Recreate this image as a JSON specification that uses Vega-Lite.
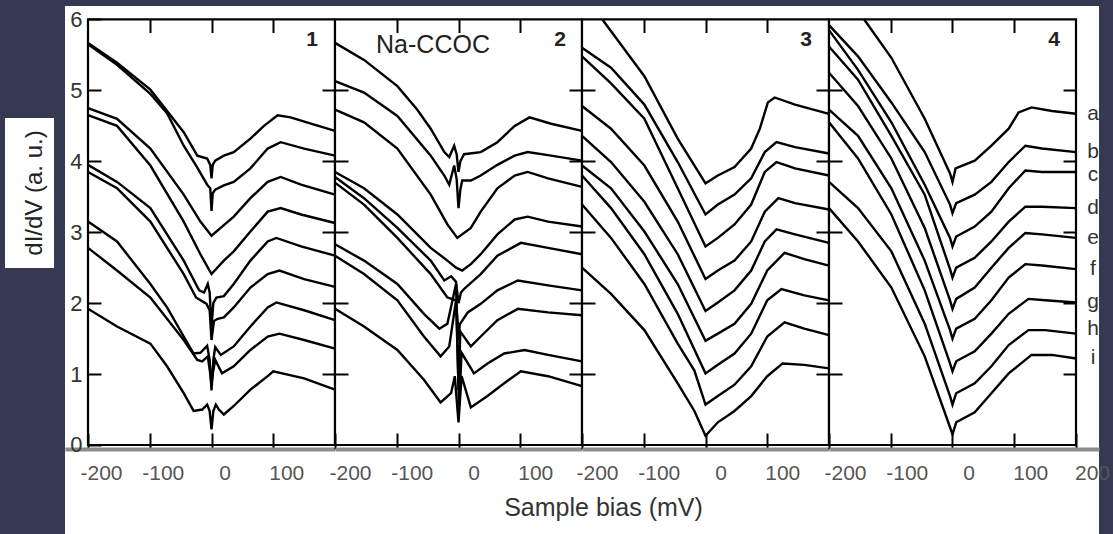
{
"$schema": "https://vega.github.io/schema/vega-lite/v6.json",
"background": "#353a52",
"padding": {"left": 5, "top": 6, "right": 14, "bottom": 0},
"autosize": {"type": "pad"},
"config": {"view": {"stroke": null}, "font": "Liberation Sans", "axis": {"grid": false, "domain": false, "tickColor": "#000", "tickWidth": 2, "labelFont": "Liberation Sans", "titleFont": "Liberation Sans"}},
"datasets": {
"p1": [
{"c":"a","x":-200,"y":5.67},{"c":"a","x":-153,"y":5.39},{"c":"a","x":-99,"y":5.01},{"c":"a","x":-45,"y":4.41},{"c":"a","x":-23,"y":4.08},{"c":"a","x":-7,"y":4.04},{"c":"a","x":-2,"y":3.95},{"c":"a","x":0,"y":3.76},{"c":"a","x":2,"y":3.95},{"c":"a","x":6,"y":4.01},{"c":"a","x":20,"y":4.08},{"c":"a","x":36,"y":4.13},{"c":"a","x":63,"y":4.32},{"c":"a","x":85,"y":4.5},{"c":"a","x":107,"y":4.65},{"c":"a","x":128,"y":4.62},{"c":"a","x":161,"y":4.53},{"c":"a","x":200,"y":4.43},
{"c":"b","x":-200,"y":5.65},{"c":"b","x":-153,"y":5.36},{"c":"b","x":-99,"y":4.95},{"c":"b","x":-72,"y":4.68},{"c":"b","x":-45,"y":4.22},{"c":"b","x":-23,"y":3.91},{"c":"b","x":-7,"y":3.67},{"c":"b","x":-2,"y":3.62},{"c":"b","x":0,"y":3.3},{"c":"b","x":2,"y":3.55},{"c":"b","x":6,"y":3.6},{"c":"b","x":20,"y":3.66},{"c":"b","x":36,"y":3.71},{"c":"b","x":63,"y":3.9},{"c":"b","x":91,"y":4.18},{"c":"b","x":112,"y":4.27},{"c":"b","x":150,"y":4.18},{"c":"b","x":200,"y":4.08},
{"c":"c","x":-200,"y":4.75},{"c":"c","x":-153,"y":4.6},{"c":"c","x":-99,"y":4.18},{"c":"c","x":-45,"y":3.53},{"c":"c","x":-18,"y":3.15},{"c":"c","x":0,"y":2.95},{"c":"c","x":20,"y":3.1},{"c":"c","x":36,"y":3.22},{"c":"c","x":63,"y":3.48},{"c":"c","x":91,"y":3.71},{"c":"c","x":112,"y":3.78},{"c":"c","x":145,"y":3.67},{"c":"c","x":200,"y":3.53},
{"c":"d","x":-200,"y":4.65},{"c":"d","x":-153,"y":4.5},{"c":"d","x":-99,"y":3.94},{"c":"d","x":-45,"y":3.15},{"c":"d","x":-18,"y":2.69},{"c":"d","x":0,"y":2.41},{"c":"d","x":20,"y":2.6},{"c":"d","x":36,"y":2.73},{"c":"d","x":63,"y":3.01},{"c":"d","x":91,"y":3.29},{"c":"d","x":112,"y":3.34},{"c":"d","x":145,"y":3.25},{"c":"d","x":200,"y":3.13},
{"c":"e","x":-200,"y":3.95},{"c":"e","x":-153,"y":3.71},{"c":"e","x":-99,"y":3.34},{"c":"e","x":-45,"y":2.6},{"c":"e","x":-20,"y":2.18},{"c":"e","x":-12,"y":2.15},{"c":"e","x":-6,"y":2.27},{"c":"e","x":-3,"y":2.15},{"c":"e","x":0,"y":1.67},{"c":"e","x":3,"y":2.0},{"c":"e","x":8,"y":2.08},{"c":"e","x":20,"y":2.1},{"c":"e","x":36,"y":2.27},{"c":"e","x":63,"y":2.6},{"c":"e","x":91,"y":2.87},{"c":"e","x":105,"y":2.92},{"c":"e","x":145,"y":2.8},{"c":"e","x":200,"y":2.67},
{"c":"f","x":-200,"y":3.85},{"c":"f","x":-153,"y":3.62},{"c":"f","x":-99,"y":3.15},{"c":"f","x":-45,"y":2.41},{"c":"f","x":-25,"y":2.08},{"c":"f","x":-8,"y":1.99},{"c":"f","x":-3,"y":1.9},{"c":"f","x":0,"y":1.48},{"c":"f","x":4,"y":1.75},{"c":"f","x":10,"y":1.78},{"c":"f","x":20,"y":1.8},{"c":"f","x":36,"y":1.94},{"c":"f","x":63,"y":2.22},{"c":"f","x":91,"y":2.41},{"c":"f","x":110,"y":2.46},{"c":"f","x":150,"y":2.34},{"c":"f","x":200,"y":2.23},
{"c":"g","x":-200,"y":3.15},{"c":"g","x":-153,"y":2.87},{"c":"g","x":-99,"y":2.27},{"c":"g","x":-72,"y":1.94},{"c":"g","x":-45,"y":1.53},{"c":"g","x":-29,"y":1.29},{"c":"g","x":-18,"y":1.3},{"c":"g","x":-7,"y":1.4},{"c":"g","x":-3,"y":1.2},{"c":"g","x":0,"y":0.77},{"c":"g","x":3,"y":1.2},{"c":"g","x":6,"y":1.38},{"c":"g","x":15,"y":1.27},{"c":"g","x":36,"y":1.39},{"c":"g","x":63,"y":1.67},{"c":"g","x":91,"y":1.94},{"c":"g","x":105,"y":2.01},{"c":"g","x":150,"y":1.9},{"c":"g","x":200,"y":1.76},
{"c":"h","x":-200,"y":2.78},{"c":"h","x":-153,"y":2.46},{"c":"h","x":-99,"y":2.08},{"c":"h","x":-45,"y":1.48},{"c":"h","x":-23,"y":1.2},{"c":"h","x":-15,"y":1.18},{"c":"h","x":-6,"y":1.25},{"c":"h","x":-2,"y":1.0},{"c":"h","x":0,"y":0.85},{"c":"h","x":2,"y":1.0},{"c":"h","x":6,"y":1.2},{"c":"h","x":17,"y":1.01},{"c":"h","x":36,"y":1.11},{"c":"h","x":63,"y":1.34},{"c":"h","x":91,"y":1.53},{"c":"h","x":110,"y":1.57},{"c":"h","x":150,"y":1.48},{"c":"h","x":200,"y":1.36},
{"c":"i","x":-200,"y":1.92},{"c":"i","x":-153,"y":1.67},{"c":"i","x":-99,"y":1.43},{"c":"i","x":-72,"y":1.11},{"c":"i","x":-45,"y":0.73},{"c":"i","x":-29,"y":0.48},{"c":"i","x":-15,"y":0.5},{"c":"i","x":-7,"y":0.57},{"c":"i","x":-3,"y":0.48},{"c":"i","x":0,"y":0.22},{"c":"i","x":3,"y":0.48},{"c":"i","x":7,"y":0.57},{"c":"i","x":12,"y":0.5},{"c":"i","x":20,"y":0.43},{"c":"i","x":36,"y":0.55},{"c":"i","x":63,"y":0.78},{"c":"i","x":91,"y":0.97},{"c":"i","x":100,"y":1.04},{"c":"i","x":150,"y":0.94},{"c":"i","x":200,"y":0.78}
],
"p2": [
{"c":"a","x":-200,"y":5.67},{"c":"a","x":-153,"y":5.43},{"c":"a","x":-99,"y":5.06},{"c":"a","x":-67,"y":4.73},{"c":"a","x":-45,"y":4.46},{"c":"a","x":-23,"y":4.13},{"c":"a","x":-15,"y":4.06},{"c":"a","x":-7,"y":4.22},{"c":"a","x":-3,"y":4.1},{"c":"a","x":0,"y":3.85},{"c":"a","x":3,"y":4.0},{"c":"a","x":9,"y":4.1},{"c":"a","x":36,"y":4.13},{"c":"a","x":63,"y":4.27},{"c":"a","x":91,"y":4.5},{"c":"a","x":115,"y":4.62},{"c":"a","x":150,"y":4.53},{"c":"a","x":200,"y":4.43},
{"c":"b","x":-200,"y":5.13},{"c":"b","x":-153,"y":4.97},{"c":"b","x":-99,"y":4.64},{"c":"b","x":-45,"y":4.08},{"c":"b","x":-23,"y":3.8},{"c":"b","x":-15,"y":3.67},{"c":"b","x":-7,"y":3.94},{"c":"b","x":-3,"y":3.75},{"c":"b","x":0,"y":3.34},{"c":"b","x":3,"y":3.6},{"c":"b","x":6,"y":3.73},{"c":"b","x":20,"y":3.73},{"c":"b","x":36,"y":3.8},{"c":"b","x":63,"y":3.95},{"c":"b","x":91,"y":4.08},{"c":"b","x":112,"y":4.13},{"c":"b","x":150,"y":4.08},{"c":"b","x":200,"y":4.01},
{"c":"c","x":-200,"y":4.73},{"c":"c","x":-153,"y":4.55},{"c":"c","x":-99,"y":4.18},{"c":"c","x":-45,"y":3.53},{"c":"c","x":-18,"y":3.11},{"c":"c","x":-2,"y":2.92},{"c":"c","x":20,"y":3.06},{"c":"c","x":36,"y":3.29},{"c":"c","x":63,"y":3.62},{"c":"c","x":91,"y":3.8},{"c":"c","x":112,"y":3.85},{"c":"c","x":145,"y":3.76},{"c":"c","x":200,"y":3.64},
{"c":"d","x":-200,"y":3.85},{"c":"d","x":-153,"y":3.62},{"c":"d","x":-99,"y":3.25},{"c":"d","x":-45,"y":2.78},{"c":"d","x":-18,"y":2.6},{"c":"d","x":-4,"y":2.5},{"c":"d","x":6,"y":2.46},{"c":"d","x":20,"y":2.55},{"c":"d","x":36,"y":2.69},{"c":"d","x":63,"y":2.97},{"c":"d","x":91,"y":3.18},{"c":"d","x":112,"y":3.22},{"c":"d","x":145,"y":3.15},{"c":"d","x":200,"y":3.08},
{"c":"e","x":-200,"y":3.78},{"c":"e","x":-153,"y":3.48},{"c":"e","x":-99,"y":3.06},{"c":"e","x":-45,"y":2.6},{"c":"e","x":-23,"y":2.32},{"c":"e","x":-12,"y":2.38},{"c":"e","x":-4,"y":2.3},{"c":"e","x":0,"y":2.0},{"c":"e","x":4,"y":2.15},{"c":"e","x":9,"y":2.2},{"c":"e","x":36,"y":2.41},{"c":"e","x":63,"y":2.67},{"c":"e","x":101,"y":2.85},{"c":"e","x":145,"y":2.78},{"c":"e","x":200,"y":2.69},
{"c":"f","x":-200,"y":3.7},{"c":"f","x":-153,"y":3.39},{"c":"f","x":-99,"y":2.92},{"c":"f","x":-45,"y":2.41},{"c":"f","x":-18,"y":2.08},{"c":"f","x":-4,"y":2.04},{"c":"f","x":-1,"y":1.7},{"c":"f","x":0,"y":1.48},{"c":"f","x":2,"y":1.7},{"c":"f","x":15,"y":1.87},{"c":"f","x":36,"y":1.99},{"c":"f","x":63,"y":2.18},{"c":"f","x":96,"y":2.32},{"c":"f","x":145,"y":2.25},{"c":"f","x":200,"y":2.18},
{"c":"g","x":-200,"y":2.83},{"c":"g","x":-153,"y":2.6},{"c":"g","x":-99,"y":2.27},{"c":"g","x":-56,"y":1.85},{"c":"g","x":-31,"y":1.64},{"c":"g","x":-18,"y":1.71},{"c":"g","x":-4,"y":2.27},{"c":"g","x":0,"y":0.78},{"c":"g","x":3,"y":1.6},{"c":"g","x":20,"y":1.39},{"c":"g","x":36,"y":1.53},{"c":"g","x":63,"y":1.76},{"c":"g","x":96,"y":1.92},{"c":"g","x":145,"y":1.87},{"c":"g","x":200,"y":1.83},
{"c":"h","x":-200,"y":2.67},{"c":"h","x":-153,"y":2.41},{"c":"h","x":-99,"y":2.04},{"c":"h","x":-56,"y":1.53},{"c":"h","x":-29,"y":1.25},{"c":"h","x":-15,"y":1.39},{"c":"h","x":-4,"y":2.04},{"c":"h","x":1,"y":0.55},{"c":"h","x":5,"y":1.3},{"c":"h","x":25,"y":1.01},{"c":"h","x":47,"y":1.15},{"c":"h","x":74,"y":1.29},{"c":"h","x":107,"y":1.34},{"c":"h","x":145,"y":1.27},{"c":"h","x":200,"y":1.18},
{"c":"i","x":-200,"y":1.92},{"c":"i","x":-153,"y":1.67},{"c":"i","x":-99,"y":1.34},{"c":"i","x":-56,"y":0.92},{"c":"i","x":-29,"y":0.6},{"c":"i","x":-12,"y":0.73},{"c":"i","x":-6,"y":0.97},{"c":"i","x":0,"y":0.32},{"c":"i","x":5,"y":0.97},{"c":"i","x":20,"y":0.53},{"c":"i","x":47,"y":0.69},{"c":"i","x":74,"y":0.87},{"c":"i","x":101,"y":1.04},{"c":"i","x":145,"y":0.97},{"c":"i","x":200,"y":0.83}
],
"p3": [
{"c":"a","x":-167,"y":6.0},{"c":"a","x":-99,"y":5.2},{"c":"a","x":-45,"y":4.32},{"c":"a","x":0,"y":3.69},{"c":"a","x":20,"y":3.8},{"c":"a","x":47,"y":3.92},{"c":"a","x":74,"y":4.18},{"c":"a","x":88,"y":4.46},{"c":"a","x":101,"y":4.83},{"c":"a","x":112,"y":4.9},{"c":"a","x":145,"y":4.8},{"c":"a","x":200,"y":4.67},
{"c":"b","x":-200,"y":5.6},{"c":"b","x":-153,"y":5.32},{"c":"b","x":-99,"y":4.8},{"c":"b","x":-45,"y":3.99},{"c":"b","x":0,"y":3.25},{"c":"b","x":20,"y":3.39},{"c":"b","x":47,"y":3.53},{"c":"b","x":74,"y":3.76},{"c":"b","x":96,"y":4.13},{"c":"b","x":115,"y":4.27},{"c":"b","x":145,"y":4.2},{"c":"b","x":200,"y":4.11},
{"c":"c","x":-200,"y":5.48},{"c":"c","x":-153,"y":5.1},{"c":"c","x":-99,"y":4.6},{"c":"c","x":-45,"y":3.62},{"c":"c","x":0,"y":2.8},{"c":"c","x":20,"y":2.92},{"c":"c","x":47,"y":3.11},{"c":"c","x":74,"y":3.39},{"c":"c","x":96,"y":3.85},{"c":"c","x":115,"y":3.99},{"c":"c","x":145,"y":3.9},{"c":"c","x":200,"y":3.8},
{"c":"d","x":-200,"y":4.78},{"c":"d","x":-153,"y":4.46},{"c":"d","x":-99,"y":3.94},{"c":"d","x":-45,"y":3.15},{"c":"d","x":0,"y":2.34},{"c":"d","x":20,"y":2.46},{"c":"d","x":47,"y":2.6},{"c":"d","x":74,"y":2.87},{"c":"d","x":96,"y":3.29},{"c":"d","x":118,"y":3.48},{"c":"d","x":145,"y":3.41},{"c":"d","x":200,"y":3.32},
{"c":"e","x":-200,"y":4.36},{"c":"e","x":-153,"y":3.99},{"c":"e","x":-99,"y":3.43},{"c":"e","x":-45,"y":2.69},{"c":"e","x":0,"y":1.89},{"c":"e","x":20,"y":2.01},{"c":"e","x":47,"y":2.18},{"c":"e","x":74,"y":2.46},{"c":"e","x":96,"y":2.87},{"c":"e","x":115,"y":3.04},{"c":"e","x":145,"y":2.97},{"c":"e","x":200,"y":2.85},
{"c":"f","x":-200,"y":3.94},{"c":"f","x":-153,"y":3.62},{"c":"f","x":-99,"y":3.01},{"c":"f","x":-45,"y":2.27},{"c":"f","x":0,"y":1.47},{"c":"f","x":20,"y":1.57},{"c":"f","x":47,"y":1.71},{"c":"f","x":74,"y":1.99},{"c":"f","x":100,"y":2.46},{"c":"f","x":128,"y":2.71},{"c":"f","x":160,"y":2.62},{"c":"f","x":200,"y":2.53},
{"c":"g","x":-200,"y":3.8},{"c":"g","x":-153,"y":3.34},{"c":"g","x":-99,"y":2.69},{"c":"g","x":-45,"y":1.85},{"c":"g","x":0,"y":1.01},{"c":"g","x":20,"y":1.13},{"c":"g","x":47,"y":1.29},{"c":"g","x":74,"y":1.57},{"c":"g","x":100,"y":2.04},{"c":"g","x":123,"y":2.2},{"c":"g","x":160,"y":2.11},{"c":"g","x":200,"y":2.04},
{"c":"h","x":-200,"y":3.39},{"c":"h","x":-153,"y":2.92},{"c":"h","x":-99,"y":2.27},{"c":"h","x":-45,"y":1.43},{"c":"h","x":-18,"y":1.05},{"c":"h","x":0,"y":0.57},{"c":"h","x":20,"y":0.69},{"c":"h","x":47,"y":0.85},{"c":"h","x":74,"y":1.11},{"c":"h","x":100,"y":1.53},{"c":"h","x":128,"y":1.73},{"c":"h","x":160,"y":1.64},{"c":"h","x":200,"y":1.55},
{"c":"i","x":-200,"y":2.5},{"c":"i","x":-153,"y":2.13},{"c":"i","x":-99,"y":1.62},{"c":"i","x":-45,"y":0.87},{"c":"i","x":-18,"y":0.48},{"c":"i","x":0,"y":0.13},{"c":"i","x":20,"y":0.32},{"c":"i","x":47,"y":0.48},{"c":"i","x":74,"y":0.69},{"c":"i","x":100,"y":0.97},{"c":"i","x":125,"y":1.15},{"c":"i","x":160,"y":1.13},{"c":"i","x":200,"y":1.08}
],
"p4": [
{"c":"a","x":-143,"y":6.0},{"c":"a","x":-99,"y":5.46},{"c":"a","x":-45,"y":4.6},{"c":"a","x":-4,"y":3.83},{"c":"a","x":0,"y":3.71},{"c":"a","x":5,"y":3.9},{"c":"a","x":36,"y":4.01},{"c":"a","x":63,"y":4.22},{"c":"a","x":91,"y":4.46},{"c":"a","x":107,"y":4.69},{"c":"a","x":128,"y":4.76},{"c":"a","x":161,"y":4.71},{"c":"a","x":200,"y":4.67},
{"c":"b","x":-200,"y":5.92},{"c":"b","x":-153,"y":5.48},{"c":"b","x":-99,"y":4.83},{"c":"b","x":-45,"y":4.13},{"c":"b","x":-4,"y":3.39},{"c":"b","x":0,"y":3.27},{"c":"b","x":6,"y":3.41},{"c":"b","x":36,"y":3.53},{"c":"b","x":63,"y":3.71},{"c":"b","x":91,"y":3.99},{"c":"b","x":118,"y":4.22},{"c":"b","x":145,"y":4.18},{"c":"b","x":200,"y":4.13},
{"c":"c","x":-200,"y":5.85},{"c":"c","x":-153,"y":5.29},{"c":"c","x":-99,"y":4.55},{"c":"c","x":-45,"y":3.67},{"c":"c","x":-4,"y":2.92},{"c":"c","x":0,"y":2.8},{"c":"c","x":6,"y":2.94},{"c":"c","x":36,"y":3.08},{"c":"c","x":63,"y":3.29},{"c":"c","x":91,"y":3.62},{"c":"c","x":118,"y":3.87},{"c":"c","x":145,"y":3.85},{"c":"c","x":200,"y":3.85},
{"c":"d","x":-200,"y":5.62},{"c":"d","x":-153,"y":5.15},{"c":"d","x":-99,"y":4.36},{"c":"d","x":-45,"y":3.53},{"c":"d","x":-4,"y":2.48},{"c":"d","x":0,"y":2.36},{"c":"d","x":6,"y":2.5},{"c":"d","x":36,"y":2.64},{"c":"d","x":63,"y":2.87},{"c":"d","x":91,"y":3.15},{"c":"d","x":118,"y":3.36},{"c":"d","x":145,"y":3.36},{"c":"d","x":200,"y":3.34},
{"c":"e","x":-200,"y":5.25},{"c":"e","x":-153,"y":4.78},{"c":"e","x":-99,"y":4.04},{"c":"e","x":-45,"y":3.06},{"c":"e","x":-4,"y":2.04},{"c":"e","x":0,"y":1.92},{"c":"e","x":6,"y":2.06},{"c":"e","x":36,"y":2.22},{"c":"e","x":63,"y":2.5},{"c":"e","x":91,"y":2.78},{"c":"e","x":118,"y":2.99},{"c":"e","x":145,"y":2.97},{"c":"e","x":200,"y":2.92},
{"c":"f","x":-200,"y":4.73},{"c":"f","x":-153,"y":4.36},{"c":"f","x":-99,"y":3.62},{"c":"f","x":-45,"y":2.6},{"c":"f","x":-4,"y":1.62},{"c":"f","x":0,"y":1.5},{"c":"f","x":6,"y":1.64},{"c":"f","x":36,"y":1.78},{"c":"f","x":63,"y":2.04},{"c":"f","x":91,"y":2.36},{"c":"f","x":118,"y":2.55},{"c":"f","x":145,"y":2.53},{"c":"f","x":200,"y":2.48},
{"c":"g","x":-200,"y":4.55},{"c":"g","x":-153,"y":4.04},{"c":"g","x":-99,"y":3.25},{"c":"g","x":-45,"y":2.18},{"c":"g","x":-4,"y":1.15},{"c":"g","x":0,"y":1.04},{"c":"g","x":6,"y":1.18},{"c":"g","x":36,"y":1.32},{"c":"g","x":63,"y":1.57},{"c":"g","x":91,"y":1.85},{"c":"g","x":123,"y":2.06},{"c":"g","x":150,"y":2.04},{"c":"g","x":200,"y":2.01},
{"c":"h","x":-200,"y":3.71},{"c":"h","x":-153,"y":3.34},{"c":"h","x":-99,"y":2.73},{"c":"h","x":-45,"y":1.71},{"c":"h","x":-4,"y":0.69},{"c":"h","x":0,"y":0.57},{"c":"h","x":6,"y":0.73},{"c":"h","x":36,"y":0.87},{"c":"h","x":63,"y":1.11},{"c":"h","x":91,"y":1.41},{"c":"h","x":123,"y":1.62},{"c":"h","x":150,"y":1.62},{"c":"h","x":200,"y":1.57},
{"c":"i","x":-200,"y":3.34},{"c":"i","x":-153,"y":2.87},{"c":"i","x":-99,"y":2.22},{"c":"i","x":-45,"y":1.25},{"c":"i","x":-4,"y":0.25},{"c":"i","x":0,"y":0.15},{"c":"i","x":6,"y":0.32},{"c":"i","x":36,"y":0.46},{"c":"i","x":63,"y":0.73},{"c":"i","x":91,"y":1.01},{"c":"i","x":128,"y":1.27},{"c":"i","x":161,"y":1.27},{"c":"i","x":200,"y":1.22}
]
},
"spacing": 11,
"hconcat": [
{"vconcat": [
  {"width": 49, "height": 112, "data": {"values": []}, "mark": "point"},
  {"width": 49, "height": 150, "view": {"fill": "white"}, "data": {"values": []}, "mark": "point",
   "title": {"text": "dI/dV (a. u.)", "orient": "left", "anchor": "middle", "offset": -42, "fontSize": 24, "fontWeight": "normal", "color": "#222", "font": "Liberation Sans"}}
 ], "spacing": 0, "bounds": "flush"},
{"hconcat": [
 {"width": 270, "height": 528, "view": {"fill": "white"}, "data": {"name": "p1"},
  "resolve": {"axis": {"x": "independent", "y": "independent"}},
  "layer": [
   {"mark": {"type": "line", "color": "#000", "strokeWidth": 2.4},
    "encoding": {
     "x": {"field": "x", "type": "quantitative", "scale": {"domain": [-237.25, 200], "nice": false, "zero": false},
       "axis": {"orient": "bottom", "offset": -85, "values": [-200, -100, 0, 100], "labelExpr": "replace(datum.label, '\u2212', '-')", "tickSize": -16, "domain": true, "domainColor": "#8c8c8c", "domainWidth": 4, "labelOffset": 13, "labelPadding": 40, "labelBaseline": "middle", "labelFontSize": 21, "labelColor": "#555", "labelFlush": false, "labelOverlap": false, "title": null}},
     "y": {"field": "y", "type": "quantitative", "scale": {"domain": [-1.255, 6.19], "nice": false, "zero": false},
       "axis": {"orient": "left", "offset": -23, "values": [0, 1, 2, 3, 4, 5, 6], "tickSize": -13, "labelPadding": 19, "labelFontSize": 22, "labelColor": "#333", "labelBaseline": "middle", "labelFlush": false, "labelOverlap": false, "title": null}},
     "detail": {"field": "c"}}},
   {"mark": {"type": "line", "opacity": 0},
    "encoding": {
     "x": {"field": "x", "type": "quantitative", "scale": {"domain": [-237.25, 200], "nice": false, "zero": false},
       "axis": {"orient": "top", "offset": -13.5, "values": [-100, 0, 100], "tickSize": -13, "labels": false, "title": null}},
     "y": {"field": "y", "type": "quantitative", "scale": {"domain": [-1.255, 6.19], "nice": false, "zero": false},
       "axis": {"orient": "right", "offset": 0, "values": [1, 2, 3, 4, 5], "tickSize": -13, "labels": false, "title": null}},
     "detail": {"field": "c"}}},
   {"data": {"values": [{}]}, "mark": {"type": "rect", "filled": false, "stroke": "#000", "strokeWidth": 2.2},
    "encoding": {"x": {"datum": -200, "axis": null}, "x2": {"datum": 200}, "y": {"datum": 0, "axis": null}, "y2": {"datum": 6}}},
   {"data": {"values": [{}]}, "mark": {"type": "text", "text": "1", "fontSize": 21, "fontWeight": "bold", "align": "center", "baseline": "middle", "dx": -23, "dy": 20.5, "color": "#222"},
    "encoding": {"x": {"datum": 200, "axis": null}, "y": {"datum": 6, "axis": null}}}
  ]},
 {"width": 247, "height": 528, "view": {"fill": "white"}, "data": {"name": "p2"},
  "resolve": {"axis": {"x": "independent", "y": "independent"}},
  "layer": [
   {"mark": {"type": "line", "color": "#000", "strokeWidth": 2.4},
    "encoding": {
     "x": {"field": "x", "type": "quantitative", "scale": {"domain": [-200, 200], "nice": false, "zero": false},
       "axis": {"orient": "bottom", "offset": -85, "values": [-200, -100, 0, 100], "labelExpr": "replace(datum.label, '\u2212', '-')", "tickSize": -16, "domain": true, "domainColor": "#8c8c8c", "domainWidth": 4, "labelOffset": 15, "labelPadding": 40, "labelBaseline": "middle", "labelFontSize": 21, "labelColor": "#555", "labelFlush": false, "labelOverlap": false, "title": null}},
     "y": {"field": "y", "type": "quantitative", "scale": {"domain": [-1.255, 6.19], "nice": false, "zero": false},
       "axis": {"orient": "left", "offset": 0, "values": [1, 2, 3, 4, 5], "tickSize": -13, "labels": false, "title": null}},
     "detail": {"field": "c"}}},
   {"mark": {"type": "line", "opacity": 0},
    "encoding": {
     "x": {"field": "x", "type": "quantitative", "scale": {"domain": [-200, 200], "nice": false, "zero": false},
       "axis": {"orient": "top", "offset": -13.5, "values": [-100, 0, 100], "tickSize": -13, "labels": false, "title": null}},
     "y": {"field": "y", "type": "quantitative", "scale": {"domain": [-1.255, 6.19], "nice": false, "zero": false},
       "axis": {"orient": "right", "offset": 0, "values": [1, 2, 3, 4, 5], "tickSize": -13, "labels": false, "title": null}},
     "detail": {"field": "c"}}},
   {"data": {"values": [{}]}, "mark": {"type": "rect", "filled": false, "stroke": "#000", "strokeWidth": 2.2},
    "encoding": {"x": {"datum": -200, "axis": null}, "x2": {"datum": 200}, "y": {"datum": 0, "axis": null}, "y2": {"datum": 6}}},
   {"data": {"values": [{}]}, "mark": {"type": "text", "text": "2", "fontSize": 21, "fontWeight": "bold", "align": "center", "baseline": "middle", "dx": -22, "dy": 20.5, "color": "#222"},
    "encoding": {"x": {"datum": 200, "axis": null}, "y": {"datum": 6, "axis": null}}},
   {"data": {"values": [{}]}, "mark": {"type": "text", "text": "Na-CCOC", "fontSize": 25, "align": "center", "baseline": "middle", "dx": 98, "dy": 25.5, "color": "#222"},
    "encoding": {"x": {"datum": -200, "axis": null}, "y": {"datum": 6, "axis": null}}}
  ]},
 {"width": 247, "height": 528, "view": {"fill": "white"}, "data": {"name": "p3"},
  "resolve": {"axis": {"x": "independent", "y": "independent"}},
  "layer": [
   {"mark": {"type": "line", "color": "#000", "strokeWidth": 2.4},
    "encoding": {
     "x": {"field": "x", "type": "quantitative", "scale": {"domain": [-200, 200], "nice": false, "zero": false},
       "axis": {"orient": "bottom", "offset": -85, "values": [-200, -100, 0, 100], "labelExpr": "replace(datum.label, '\u2212', '-')", "tickSize": -16, "domain": true, "domainColor": "#8c8c8c", "domainWidth": 4, "labelOffset": 15, "labelPadding": 40, "labelBaseline": "middle", "labelFontSize": 21, "labelColor": "#555", "labelFlush": false, "labelOverlap": false,
         "title": "Sample bias (mV)", "titleX": 21, "titleY": 66, "titleAlign": "center", "titleBaseline": "alphabetic", "titleFontSize": 25, "titleFontWeight": "normal", "titleColor": "#333"}},
     "y": {"field": "y", "type": "quantitative", "scale": {"domain": [-1.255, 6.19], "nice": false, "zero": false},
       "axis": {"orient": "left", "offset": 0, "values": [1, 2, 3, 4, 5], "tickSize": -13, "labels": false, "title": null}},
     "detail": {"field": "c"}}},
   {"mark": {"type": "line", "opacity": 0},
    "encoding": {
     "x": {"field": "x", "type": "quantitative", "scale": {"domain": [-200, 200], "nice": false, "zero": false},
       "axis": {"orient": "top", "offset": -13.5, "values": [-100, 0, 100], "tickSize": -13, "labels": false, "title": null}},
     "y": {"field": "y", "type": "quantitative", "scale": {"domain": [-1.255, 6.19], "nice": false, "zero": false},
       "axis": {"orient": "right", "offset": 0, "values": [1, 2, 3, 4, 5], "tickSize": -13, "labels": false, "title": null}},
     "detail": {"field": "c"}}},
   {"data": {"values": [{}]}, "mark": {"type": "rect", "filled": false, "stroke": "#000", "strokeWidth": 2.2},
    "encoding": {"x": {"datum": -200, "axis": null}, "x2": {"datum": 200}, "y": {"datum": 0, "axis": null}, "y2": {"datum": 6}}},
   {"data": {"values": [{}]}, "mark": {"type": "text", "text": "3", "fontSize": 21, "fontWeight": "bold", "align": "center", "baseline": "middle", "dx": -23, "dy": 20.5, "color": "#222"},
    "encoding": {"x": {"datum": 200, "axis": null}, "y": {"datum": 6, "axis": null}}}
  ]},
 {"width": 270, "height": 528, "view": {"fill": "white"}, "data": {"name": "p4"},
  "resolve": {"axis": {"x": "independent", "y": "independent"}},
  "layer": [
   {"mark": {"type": "line", "color": "#000", "strokeWidth": 2.4},
    "encoding": {
     "x": {"field": "x", "type": "quantitative", "scale": {"domain": [-200, 237.25], "nice": false, "zero": false},
       "axis": {"orient": "bottom", "offset": -85, "values": [-200, -100, 0, 100, 200], "labelExpr": "replace(datum.label, '\u2212', '-')", "tickSize": -16, "domain": true, "domainColor": "#8c8c8c", "domainWidth": 4, "labelOffset": 16, "labelPadding": 40, "labelBaseline": "middle", "labelFontSize": 21, "labelColor": "#555", "labelFlush": false, "labelOverlap": false, "title": null}},
     "y": {"field": "y", "type": "quantitative", "scale": {"domain": [-1.255, 6.19], "nice": false, "zero": false},
       "axis": {"orient": "left", "offset": 0, "values": [1, 2, 3, 4, 5], "tickSize": -13, "labels": false, "title": null}},
     "detail": {"field": "c"}}},
   {"mark": {"type": "line", "opacity": 0},
    "encoding": {
     "x": {"field": "x", "type": "quantitative", "scale": {"domain": [-200, 237.25], "nice": false, "zero": false},
       "axis": {"orient": "top", "offset": -13.5, "values": [-100, 0, 100], "tickSize": -13, "labels": false, "title": null}},
     "y": {"field": "y", "type": "quantitative", "scale": {"domain": [-1.255, 6.19], "nice": false, "zero": false},
       "axis": {"orient": "right", "offset": -23, "values": [1, 2, 3, 4, 5], "tickSize": -13, "labels": false, "title": null}},
     "detail": {"field": "c"}}},
   {"data": {"values": [{}]}, "mark": {"type": "rect", "filled": false, "stroke": "#000", "strokeWidth": 2.2},
    "encoding": {"x": {"datum": -200, "axis": null}, "x2": {"datum": 200}, "y": {"datum": 0, "axis": null}, "y2": {"datum": 6}}},
   {"data": {"values": [{}]}, "mark": {"type": "text", "text": "4", "fontSize": 21, "fontWeight": "bold", "align": "center", "baseline": "middle", "dx": -22, "dy": 20.5, "color": "#222"},
    "encoding": {"x": {"datum": 200, "axis": null}, "y": {"datum": 6, "axis": null}}},
   {"data": {"values": [{"t":"a","v":4.67},{"t":"b","v":4.13},{"t":"c","v":3.8},{"t":"d","v":3.34},{"t":"e","v":2.92},{"t":"f","v":2.48},{"t":"g","v":2.01},{"t":"h","v":1.64},{"t":"i","v":1.22}]},
    "mark": {"type": "text", "fontSize": 21, "align": "center", "baseline": "middle", "dx": 17, "color": "#333"},
    "encoding": {"x": {"datum": 200, "axis": null}, "y": {"field": "v", "type": "quantitative", "axis": null}, "text": {"field": "t"}}}
  ]}
 ], "spacing": 0, "bounds": "flush"}
]
}
